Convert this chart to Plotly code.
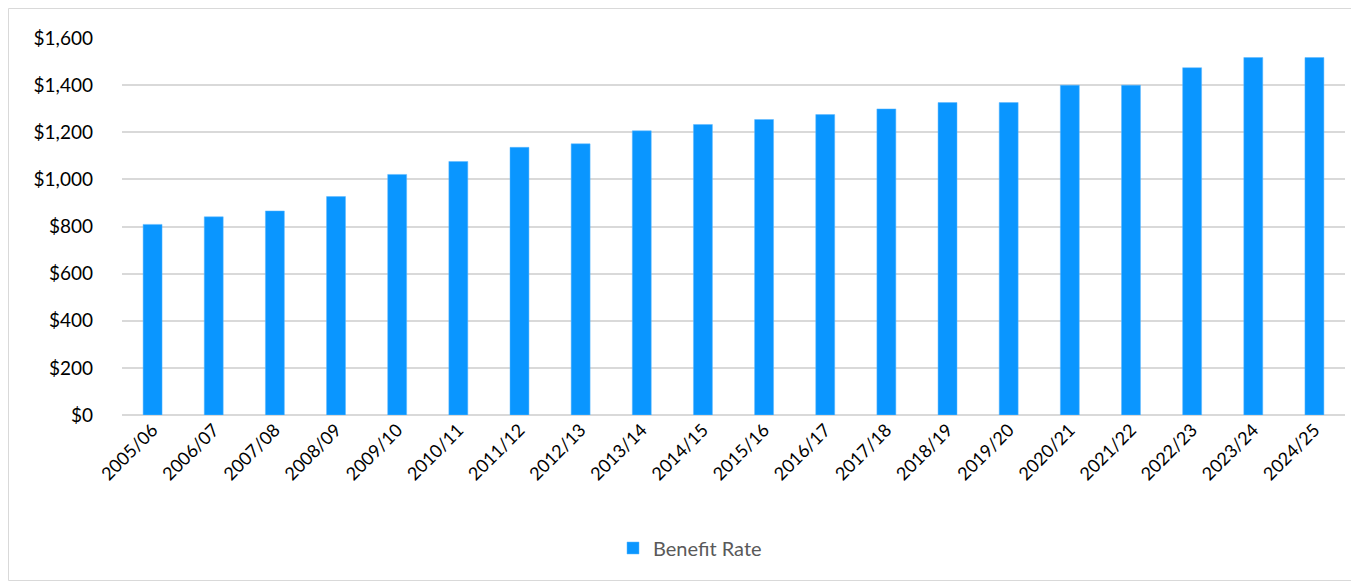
import plotly.graph_objects as go

years = ["2005/06", "2006/07", "2007/08", "2008/09", "2009/10", "2010/11", "2011/12",
         "2012/13", "2013/14", "2014/15", "2015/16", "2016/17", "2017/18", "2018/19",
         "2019/20", "2020/21", "2021/22", "2022/23", "2023/24", "2024/25"]
benefit_rate = [809, 841, 866, 927, 1021, 1076, 1136, 1151, 1206, 1233, 1254, 1275,
                1299, 1326, 1326, 1400, 1400, 1474, 1517, 1517]
y_ticks = [0, 200, 400, 600, 800, 1000, 1200, 1400, 1600]
y_tick_labels = ["$" + format(v, ",") for v in y_ticks]

# page has an 8px body margin; figure is placed at (8, 8)
W, H = 1351, 573
L, R, T, B = 114, 14, 30, 166
pw, ph = W - L - R, H - T - B

fig = go.Figure()
fig.add_trace(go.Bar(
    x=years, y=benefit_rate, name="Benefit Rate",
    marker=dict(color="#0A96FF", line=dict(color="#5DB8FF", width=0.5)),
))

fig.update_layout(
    width=W, height=H,
    margin=dict(l=L, r=R, t=T, b=B),
    paper_bgcolor="white", plot_bgcolor="white",
    font=dict(family="Lato, Open Sans, sans-serif", color="#000000"),
    bargap=0.69,
    showlegend=True,
    legend=dict(orientation="h", x=(690 - 8 - L) / pw, xanchor="center",
                y=(407 - 540) / ph, yanchor="middle",
                font=dict(size=20, color="#595959")),
    xaxis=dict(tickangle=-45, tickfont=dict(size=18, color="#000000"),
               showgrid=False, showline=False, ticks=""),
    yaxis=dict(range=[0, 1600], tickvals=y_ticks, ticktext=y_tick_labels,
               tickfont=dict(size=19, color="#000000"),
               showgrid=True, gridcolor="#d9d9d9", gridwidth=1.5,
               zeroline=True, zerolinecolor="#d9d9d9", zerolinewidth=1.5,
               showline=False, ticks="", ticklen=0, ticklabelstandoff=28),
    shapes=[dict(type="rect", xref="paper", yref="paper",
                 x0=(0.5 - L) / pw, x1=(W - 0.5 - L) / pw,
                 y0=-(B - 0.5) / ph, y1=(ph + T - 0.5) / ph,
                 line=dict(color="#d9d9d9", width=1), layer="below")],
)

fig.write_html("out.html")
